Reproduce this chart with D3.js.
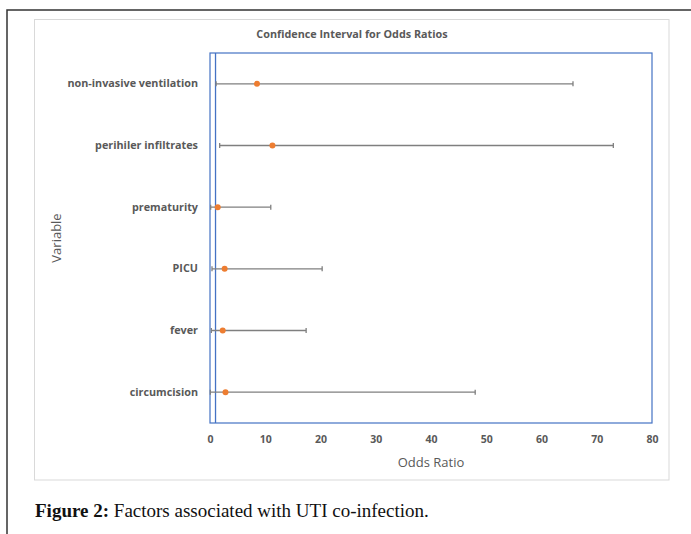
<!DOCTYPE html>
<html><head><meta charset="utf-8">
<script src="https://cdn.jsdelivr.net/npm/d3@7/dist/d3.min.js"></script>
<style>body{margin:0;background:#fff}svg{display:block}</style>
</head><body><svg id="c" width="691" height="534"></svg>
<script>
const categories = ["non-invasive ventilation","perihiler infiltrates","prematurity","PICU","fever","circumcision"];
const oddsRatio = [8.5, 11.3, 1.4, 2.65, 2.3, 2.8];
const lowerCI = [1.1, 1.75, 0.12, 0.36, 0.24, 0.06];
const upperCI = [65.7, 73.0, 11.0, 20.3, 17.4, 48.0];
const xTicks = [0,10,20,30,40,50,60,70,80];
const refLine = 1;

const svg = d3.select("#c");
// outer frame
svg.append("path").attr("d","M7,534V10H691").attr("fill","none").attr("stroke","#333").attr("stroke-width",1.5);
// chart area border
svg.append("rect").attr("x",34.5).attr("y",19.5).attr("width",634.5).attr("height",460.5)
  .attr("fill","#fff").attr("stroke","#d9d9d9").attr("stroke-width",1);

const L=210,R=652,T=53,B=423;
const x = d3.scaleLinear().domain([0,80]).range([L,R]);
const y = d3.scaleBand().domain(categories).range([T,B]);

svg.append("text").attr("x",352).attr("y",38).attr("text-anchor","middle")
  .attr("font-family","'Open Sans', sans-serif").attr("font-weight","bold").attr("font-size",10.8)
  .attr("fill","#595959").text("Confidence Interval for Odds Ratios");

// plot border
svg.append("rect").attr("x",L).attr("y",T).attr("width",R-L).attr("height",B-T)
  .attr("fill","none").attr("stroke","#4472c4").attr("stroke-width",1.2);
svg.append("line").attr("x1",x(refLine)).attr("x2",x(refLine)).attr("y1",T).attr("y2",B)
  .attr("stroke","#4472c4").attr("stroke-width",1.3);

// x axis
const xAxis = svg.append("g").attr("transform",`translate(0,${B})`)
  .call(d3.axisBottom(x).tickValues(xTicks).tickSize(0).tickPadding(13));
xAxis.select(".domain").remove();
xAxis.selectAll("text").attr("font-family","'Open Sans', sans-serif").attr("font-weight","bold")
  .attr("font-size",10.5).attr("fill","#595959");

// y axis labels
const yAxis = svg.append("g").attr("transform",`translate(${L},0)`)
  .call(d3.axisLeft(y).tickSize(0).tickPadding(12));
yAxis.select(".domain").remove();
yAxis.selectAll("text").attr("font-family","'Open Sans', sans-serif").attr("font-weight","bold")
  .attr("font-size",10.8).attr("fill","#595959");

svg.append("text").attr("x",x(40)).attr("y",467).attr("text-anchor","middle")
  .attr("font-family","'Open Sans', sans-serif").attr("font-size",13).attr("fill","#595959").text("Odds Ratio");
svg.append("text").attr("transform","translate(61,238) rotate(-90)").attr("text-anchor","middle")
  .attr("font-family","'Open Sans', sans-serif").attr("font-size",13).attr("fill","#595959").text("Variable");

const rows = categories.map((c,i)=>({c,or:oddsRatio[i],lo:lowerCI[i],hi:upperCI[i]}));
const g = svg.append("g");
const cy = d => y(d.c)+y.bandwidth()/2;
g.selectAll(".bar").data(rows).join("line").attr("x1",d=>x(d.lo)).attr("x2",d=>x(d.hi))
  .attr("y1",cy).attr("y2",cy).attr("stroke","#7f7f7f").attr("stroke-width",1.3);
g.selectAll(".capl").data(rows).join("line").attr("x1",d=>x(d.lo)).attr("x2",d=>x(d.lo))
  .attr("y1",d=>cy(d)-2.5).attr("y2",d=>cy(d)+2.5).attr("stroke","#7f7f7f").attr("stroke-width",1.3);
g.selectAll(".capu").data(rows).join("line").attr("x1",d=>x(d.hi)).attr("x2",d=>x(d.hi))
  .attr("y1",d=>cy(d)-2.5).attr("y2",d=>cy(d)+2.5).attr("stroke","#7f7f7f").attr("stroke-width",1.3);
g.selectAll("circle").data(rows).join("circle").attr("cx",d=>x(d.or)).attr("cy",cy).attr("r",3)
  .attr("fill","#ed7d31");

// caption
const cap = svg.append("text").attr("x",35).attr("y",517)
  .attr("font-family","'Liberation Serif', 'DejaVu Serif', serif").attr("font-size",19).attr("fill","#111");
cap.append("tspan").attr("font-weight","bold").text("Figure 2:");
cap.append("tspan").text(" Factors associated with UTI co-infection.");
</script></body></html>
